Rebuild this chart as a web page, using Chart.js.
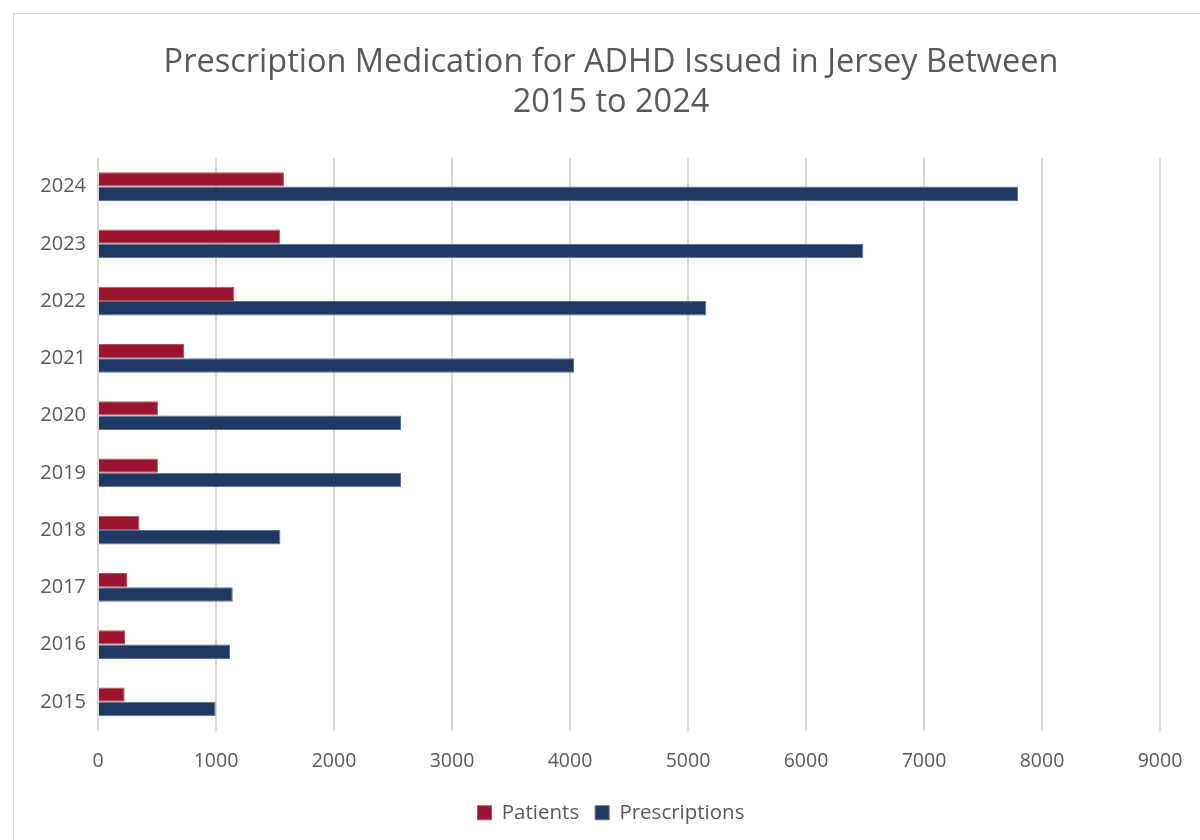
<!DOCTYPE html>
<html>
<head>
<meta charset="utf-8">
<script src="https://cdn.jsdelivr.net/npm/chart.js@4/dist/chart.umd.min.js"></script>
<style>
  html, body { margin: 0; padding: 0; width: 1200px; height: 840px; overflow: hidden; background: #ffffff; }
  #frame { position: absolute; left: 13px; top: 13px; width: 1300px; height: 900px; border: 1px solid #d9d9d9; box-sizing: border-box; }
  #wrap { position: absolute; left: 0; top: 0; width: 1200px; height: 840px; }
</style>
</head>
<body>
<div id="frame"></div>
<div id="wrap"><canvas id="c" width="1200" height="840"></canvas></div>
<script>
const titleLines = ["Prescription Medication for ADHD Issued in Jersey Between", "2015 to 2024"];
const years = ["2015", "2016", "2017", "2018", "2019", "2020", "2021", "2022", "2023", "2024"];
const patients = [226, 229, 246, 351, 508, 508, 729, 1155, 1542, 1576];
const prescriptions = [997, 1119, 1142, 1546, 2568, 2568, 4034, 5155, 6486, 7797];
const seriesNames = ["Patients", "Prescriptions"];
const seriesColors = ["#9c1530", "#203864"];
const xMin = 0, xMax = 9000, xStep = 1000;

const FONT = "'Open Sans', 'Liberation Sans', sans-serif";
const TEXT = "#595959";

new Chart(document.getElementById('c'), {
  type: 'bar',
  data: {
    labels: years,
    datasets: [
      { label: seriesNames[0], data: patients, backgroundColor: seriesColors[0], borderColor: "#b5505f", borderWidth: 1 },
      { label: seriesNames[1], data: prescriptions, backgroundColor: seriesColors[1], borderColor: "#5d6f92", borderWidth: 1 }
    ]
  },
  options: {
    indexAxis: 'y',
    responsive: false,
    animation: false,
    devicePixelRatio: 1,
    datasets: { bar: { categoryPercentage: 0.5, barPercentage: 1.0 } },
    layout: { padding: { left: 22, right: 0, top: 0, bottom: 7 } },
    plugins: {
      title: {
        display: true,
        text: titleLines,
        color: TEXT,
        font: { family: FONT, size: 32.5, weight: 'normal', lineHeight: 1.23 },
        padding: { top: 43, bottom: 35 }
      },
      legend: {
        position: 'bottom',
        labels: {
          color: TEXT,
          font: { family: FONT, size: 20.5 },
          boxWidth: 14, boxHeight: 14,
          padding: 16
        }
      },
      tooltip: { enabled: false }
    },
    scales: {
      x: {
        min: xMin, max: xMax,
        border: { display: false },
        grid: { color: "#d9d9d9", lineWidth: 2, drawTicks: false },
        ticks: { stepSize: xStep, color: TEXT, font: { family: FONT, size: 19.5 }, padding: 19,
                 callback: (v) => String(v) },
        afterFit: (s) => { s.height = 56; s.paddingRight = 40; }
      },
      y: {
        reverse: true,
        border: { display: false },
        grid: { display: false, drawTicks: false },
        ticks: { color: TEXT, font: { family: FONT, size: 20 }, padding: 12 },
        afterFit: (s) => { s.width = 76; }
      }
    }
  }
});
</script>
</body>
</html>
